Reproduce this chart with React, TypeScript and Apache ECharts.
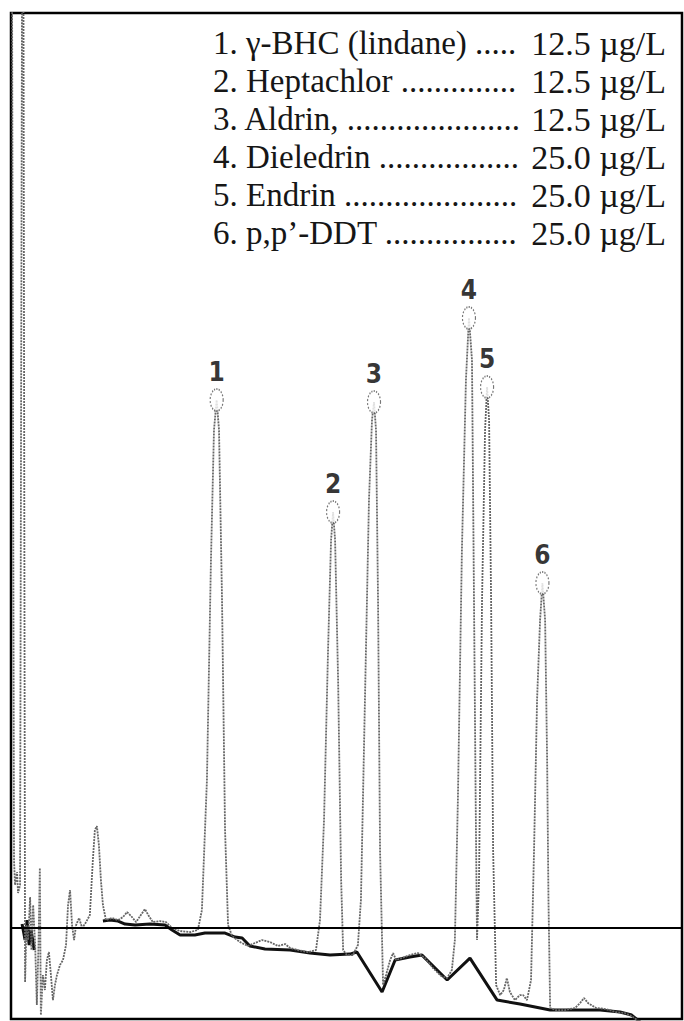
import React, { useEffect, useRef } from "react";
import * as echarts from "echarts";

// Chromatogram trace (retention time in min, detector response)
const signalTime = [
  0.03, 0.09, 0.12, 0.18, 0.21, 0.27, 0.33, 0.37, 0.42, 0.46, 0.51, 0.57, 0.61, 0.66, 0.72, 0.77, 0.82, 0.86, 0.89, 0.95,
  1.01, 1.07, 1.13, 1.19, 1.25, 1.31, 1.37, 1.46, 1.55, 1.64, 1.70, 1.76, 1.82, 1.88, 1.94, 2.03, 2.12, 2.24, 2.35, 2.44,
  2.50, 2.56, 2.62, 2.68, 2.74, 2.83, 3.01, 3.19, 3.34, 3.46, 3.58, 3.73, 3.87, 3.99, 4.11, 4.23, 4.44, 4.62, 4.80, 5.04,
  5.34, 5.57, 5.69, 5.84, 5.96, 6.05, 6.13, 6.20, 6.29, 6.38, 6.47, 6.59, 6.83, 7.06, 7.27, 7.48, 7.72, 7.96, 8.17, 8.32,
  8.55, 8.85, 9.09, 9.21, 9.33, 9.45, 9.54, 9.60, 9.66, 9.75, 9.84, 9.90, 10.01, 10.19, 10.34, 10.43, 10.55, 10.67, 10.76, 10.82,
  10.88, 10.94, 11.00, 11.09, 11.18, 11.30, 11.39, 11.48, 11.65, 11.89, 12.13, 12.34, 12.58, 12.82, 13.00, 13.14, 13.23, 13.32, 13.44, 13.56,
  13.65, 13.74, 13.80, 13.85, 13.89, 13.95, 14.04, 14.13, 14.19, 14.25, 14.31, 14.37, 14.46, 14.58, 14.69, 14.78, 14.87, 15.02, 15.17, 15.26,
  15.38, 15.50, 15.59, 15.68, 15.77, 15.84, 15.92, 15.98, 16.02, 16.07, 16.24, 16.51, 16.81, 16.96, 17.08, 17.20, 17.44, 17.73, 18.03, 18.30,
  18.50, 18.66, 18.75,
];
const signalResponse = [
  105, 7.38, 4.65, 6.07, 3.77, 4.65, 105, 105, -5.96, 0.27, -1.37, 3.34, -2.46, 2.46, -1.91, -8.47, -1.91, 6.51, -9.57, -5.19,
  -6.83, -3.55, -2.68, -5.19, -7.93, -6.29, -5.19, -4.10, -3.55, -1.91, 2.46, 4.10, 0.27, -1.37, 0.27, 1.04, -0.05, 0.60, 1.37, 7.38,
  10.66, 11.10, 9.02, 5.19, 2.46, 0.82, 1.04, 0.82, 1.15, 1.69, 1.26, 0.60, 1.37, 2.02, 1.26, 0.60, 0.71, 0.60, -0.05, -0.38,
  -0.49, -0.27, 1.91, 16.13, 40.19, 54.40, 57.68, 54.40, 35.81, 10.66, 0.27, -0.93, -1.59, -2.02, -1.69, -1.37, -1.59, -2.02, -1.80, -2.24,
  -2.46, -2.68, -2.46, 0.82, 11.76, 30.34, 42.37, 45.43, 42.37, 27.06, 5.19, -2.46, -3.01, -3.01, -1.91, 3.01, 24.88, 46.75, 55.49, 57.46,
  54.40, 35.81, 8.47, -6.29, -5.19, -3.55, -2.79, -3.55, -3.34, -3.01, -2.79, -3.34, -4.43, -5.30, -5.52, -4.65, -1.37, 13.94, 41.28, 59.87,
  66.65, 62.06, 35.81, 13.94, -1.37, 5.19, 35.81, 54.40, 59.10, 55.49, 35.81, 8.47, -6.29, -7.38, -6.83, -5.52, -7.05, -7.93, -7.38, -7.38,
  -7.93, -5.74, 8.47, 24.88, 33.62, 37.67, 33.62, 18.32, 3.01, -8.80, -9.02, -9.02, -8.80, -8.26, -7.71, -8.26, -8.80, -8.91, -9.24, -9.35,
  -9.68, -10.11, -10.66,
];

// Drifting baseline trace (null = gap)
const baselineTime = [
  0.33, 0.42, 0.48, 0.54, 0.60, 0.69, 1.5,
  2.74, 2.95, 3.19, 3.40, 3.70, 4.14, 4.59, 4.80, 5.04, 5.48, 5.78, 6.38, 6.68, 6.89, 7.12, 7.57, 8.32, 8.91,
  9.51, 10.10, 10.31, 11.06, 11.45, 11.89, 12.25, 13.00, 13.68, 14.49, 15.17, 16.07, 17.56, 18.15, 18.50, 18.75,
];
const baselineResponse = [
  0.38, -1.37, 0.82, -1.91, -0.27, -2.46, null,
  0.71, 0.82, 0.71, 0.38, 0.27, 0.38, 0.27, -0.27, -0.82, -0.82, -0.60, -0.60, -1.04, -1.15, -2.02, -2.35, -2.46, -2.79,
  -3.01, -2.90, -2.68, -7.05, -3.55, -3.23, -3.01, -5.74, -3.34, -7.93, -8.37, -9.02, -9.02, -9.24, -9.57, -10.33,
];

// Identified peaks
const peakLabels = ["1", "2", "3", "4", "5", "6"];
const peakTime = [6.13, 9.6, 10.82, 13.65, 14.19, 15.84];
const peakHeight = [57.68, 45.43, 57.46, 66.65, 59.1, 37.67];

// Legend block
const compoundNames = ["1. γ-BHC (lindane)", "2. Heptachlor", "3. Aldrin,", "4. Dieledrin", "5. Endrin", "6. p,p’-DDT"];
const concentrations = ["12.5 µg/L", "12.5 µg/L", "12.5 µg/L", "25.0 µg/L", "25.0 µg/L", "25.0 µg/L"];

const SERIF_CSS = "'Liberation Serif', 'Times New Roman', serif";

export default function App() {
  const ref = useRef<HTMLDivElement>(null);

  useEffect(() => {
    if (!ref.current) return;
    const chart = echarts.init(ref.current, undefined, { renderer: "svg" });

    const nameSize = 33;
    const valueSize = 34;
    const canvas = document.createElement("canvas");
    const ctx = canvas.getContext("2d");
    const legendLeft = 213;
    const leaderEnd = 524;
    const valueRight = 666;
    const rowTop = 43;
    const rowStep = 38;
    let dotW = 8.25;
    if (ctx) {
      ctx.font = `${nameSize}px ${SERIF_CSS}`;
      dotW = ctx.measureText(".").width || dotW;
    }
    const baseStyle = {
      fontFamily: "Liberation Serif",
      fill: "#161616",
      textVerticalAlign: "middle",
    };
    const graphics: any[] = [];
    compoundNames.forEach((name, i) => {
      let nameW = name.length * nameSize * 0.42;
      if (ctx) nameW = ctx.measureText(name + " ").width;
      const n = Math.max(3, Math.floor((leaderEnd - legendLeft - nameW) / dotW));
      const y = rowTop + i * rowStep;
      graphics.push({
        type: "text",
        x: legendLeft,
        y,
        style: { ...baseStyle, fontSize: nameSize, text: name + " " + ".".repeat(n), textAlign: "left" },
        silent: true,
      });
      graphics.push({
        type: "text",
        x: valueRight,
        y,
        style: { ...baseStyle, fontSize: valueSize, text: concentrations[i], textAlign: "right" },
        silent: true,
      });
    });

    chart.setOption({
      animation: false,
      backgroundColor: "#fff",
      grid: { left: 11, right: 2, top: 13, bottom: 2, show: true, borderColor: "#000", borderWidth: 2.5, backgroundColor: "transparent" },
      xAxis: {
        type: "value",
        min: 0,
        max: 20,
        axisLine: { show: false },
        axisTick: { show: false },
        axisLabel: { show: false },
        splitLine: { show: false },
      },
      yAxis: {
        type: "value",
        min: -10,
        max: 100,
        axisLine: { show: false },
        axisTick: { show: false },
        axisLabel: { show: false },
        splitLine: { show: false },
      },
      graphic: graphics,
      series: [
        {
          type: "line",
          name: "baseline",
          data: baselineTime.map((t, i) => [t, baselineResponse[i]]),
          showSymbol: false,
          connectNulls: false,
          lineStyle: { color: "#111", width: 3 },
          z: 3,
          markLine: {
            silent: true,
            symbol: ["none", "none"],
            label: { show: false },
            lineStyle: { color: "#000", width: 2, type: "solid" },
            data: [{ yAxis: 0 }],
          },
        },
        {
          type: "line",
          name: "signal",
          data: signalTime.map((t, i) => [t, signalResponse[i]]),
          showSymbol: false,
          lineStyle: { color: "#666", width: 1.8, type: [2, 1] },
          z: 4,
        },
        {
          type: "scatter",
          name: "peaks",
          data: peakTime.map((t, i) => [t, peakHeight[i]]),
          symbol: "circle",
          symbolSize: [13, 22],
          itemStyle: { color: "#fff", borderColor: "#555", borderWidth: 1.5, borderType: "dotted" },
          label: {
            show: true,
            position: "top",
            distance: 3,
            formatter: (p: any) => peakLabels[p.dataIndex],
            fontFamily: "'DejaVu Sans Condensed', 'Liberation Sans Narrow', 'Arial Narrow', sans-serif",
            fontWeight: "bold",
            fontSize: 26,
            color: "#000",
          },
          z: 5,
        },
      ],
    });

    return () => chart.dispose();
  }, []);

  return <div ref={ref} style={{ position: "absolute", left: 0, top: 0, width: 684, height: 1021 }} />;
}
